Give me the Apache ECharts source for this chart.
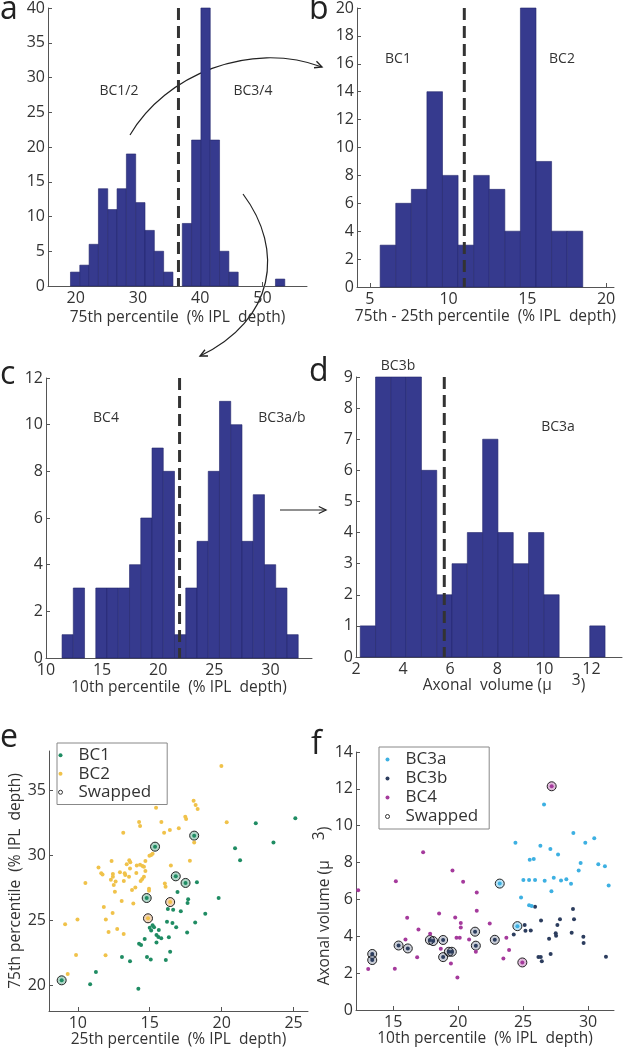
<!DOCTYPE html>
<html>
<head>
<meta charset="utf-8">
<script src="https://cdn.jsdelivr.net/npm/echarts@6/dist/echarts.min.js"></script>
<style>
  html, body { margin: 0; padding: 0; background: #fff; }
  #chart { width: 630px; height: 1049px; }
</style>
</head>
<body>
<div id="chart"></div>
<script>
// ---- histogram a: 75th percentile
const binStartA = 19.15, binWidthA = 1.497;
const countsA = [2, 3, 6, 14, 11, 14, 19, 12, 8, 5, 2, 0, 9, 21, 40, 21, 5, 2, 0, 0, 0, 0, 1];
const cutA = 36.5;
const ticksAX = [20, 30, 40, 50];

// ---- histogram b: 75th - 25th percentile
const binStartB = 5.66, binWidthB = 0.989;
const countsB = [3, 6, 7, 14, 8, 3, 8, 7, 4, 20, 9, 4, 4];
const cutB = 11.0;
const ticksBX = [5, 10, 15, 20];

// ---- histogram c: 10th percentile
const binStartC = 11.43, binWidthC = 1.002;
const countsC = [1, 3, 0, 3, 3, 3, 4, 6, 9, 8, 1, 3, 5, 8, 11, 10, 5, 7, 4, 3, 1];
const cutC = 21.9;
const ticksCX = [10, 15, 20, 25, 30];

// ---- histogram d: axonal volume
const binStartD = 2.18, binWidthD = 0.65;
const countsD = [1, 9, 9, 9, 6, 2, 3, 4, 7, 4, 3, 4, 2, 0, 0, 1];
const cutD = 5.75;
const ticksDX = [2, 4, 6, 8, 10, 12];

// ---- scatter e: [25th, 75th]
const bc1 = [
  [25.12, 32.82], [22.37, 32.44], [23.6, 30.97], [20.93, 30.51], [21.28, 29.59],
  [18.28, 27.9], [16.93, 27.15], [19.79, 26.69], [17.67, 26.6], [17.63, 26.3],
  [17.16, 25.67], [18.86, 25.49], [18.16, 24.8], [16.84, 24.44], [17.6, 24.03],
  [16.26, 25.85], [16.63, 25.79], [16.2, 24.87], [16.58, 24.77], [15.2, 24.6],
  [15.3, 24.45], [15.0, 24.4], [15.1, 24.2], [15.63, 24.23], [15.47, 23.85],
  [15.6, 23.7], [15.8, 23.6], [16.33, 23.67], [14.65, 23.54], [14.26, 23.18],
  [14.4, 23.08], [15.47, 23.26], [16.42, 22.56], [13.07, 22.15], [13.63, 21.82],
  [14.81, 22.15], [15.07, 21.97], [16.12, 21.92], [11.26, 21.0], [10.86, 20.05],
  [14.21, 19.72],
  [15.37, 30.64], [16.81, 28.36], [17.49, 27.85], [18.09, 31.49], [14.79, 26.69], [8.88, 20.36]
];
const bc2 = [
  [19.98, 36.85], [15.44, 33.64], [18.05, 34.18], [18.19, 33.85], [18.33, 33.54],
  [14.26, 32.54], [14.33, 32.23], [15.81, 32.54], [13.16, 31.72], [16.0, 31.72],
  [16.4, 31.92], [17.02, 32.05], [17.47, 32.95], [17.53, 32.77], [20.35, 32.51],
  [18.09, 30.97], [17.79, 29.56], [15.1, 30.0], [15.2, 30.1], [14.98, 29.95],
  [14.7, 29.54], [16.47, 29.2], [13.58, 29.6], [13.65, 29.45], [12.35, 29.54],
  [13.4, 29.28], [11.44, 29.03], [11.63, 28.6], [11.72, 28.5], [12.44, 28.54],
  [12.93, 28.67], [13.26, 28.6], [13.3, 28.46], [13.63, 28.97], [14.1, 29.2],
  [14.33, 29.25], [14.5, 29.15], [14.6, 29.1], [14.07, 28.62], [14.7, 28.77],
  [14.6, 28.33], [14.48, 28.15], [14.37, 28.0], [12.44, 28.33], [12.3, 28.1],
  [12.63, 27.97], [12.5, 27.7], [13.2, 28.0], [13.56, 28.33], [10.53, 27.85],
  [13.77, 27.3], [14.0, 27.5], [12.58, 27.18], [14.95, 27.4], [14.95, 27.25],
  [16.05, 27.8], [16.1, 27.56], [13.05, 26.46], [13.86, 26.26], [11.81, 26.0],
  [12.42, 25.54], [11.95, 25.03], [9.98, 25.03], [9.12, 24.67], [12.74, 24.3],
  [12.14, 24.08], [13.19, 23.92], [9.88, 22.31], [11.93, 22.28], [9.3, 20.85],
  [16.42, 26.38], [14.88, 25.13]
];
// swapped: [x, y, class] (0 = BC1, 1 = BC2)
const swappedE = [
  [15.37, 30.64, 0], [16.81, 28.36, 0], [17.49, 27.85, 0], [18.09, 31.49, 0],
  [14.79, 26.69, 0], [8.88, 20.36, 0], [16.42, 26.38, 1], [14.88, 25.13, 1]
];
const ticksEX = [10, 15, 20, 25];
const ticksEY = [20, 25, 30, 35];

// ---- scatter f: [10th percentile, axonal volume]
const bc3a = [
  [26.61, 11.15], [28.87, 9.61], [30.48, 9.32], [24.41, 9.07], [29.79, 9.07],
  [26.33, 8.91], [27.1, 8.73], [27.69, 8.44], [25.51, 8.15], [25.82, 8.2],
  [29.43, 7.97], [30.79, 7.91], [31.3, 7.8], [29.28, 7.57], [25.02, 7.06],
  [25.46, 7.06], [25.92, 7.06], [26.66, 7.01], [27.36, 7.17], [27.92, 7.03],
  [28.33, 7.1], [28.69, 6.85], [31.59, 6.76], [27.18, 6.45], [24.84, 6.11],
  [25.46, 5.69], [25.66, 5.65],
  [23.2, 6.86], [24.56, 4.55]
];
const bc3b = [
  [25.92, 5.6], [28.84, 5.48], [26.38, 4.86], [27.84, 4.92], [28.92, 4.92],
  [25.12, 4.61], [27.64, 4.61], [25.18, 4.3], [25.59, 4.32], [24.28, 4.1],
  [27.51, 4.17], [27.54, 4.03], [28.74, 4.19], [29.64, 3.97], [29.66, 3.63],
  [27.0, 3.87], [26.18, 2.87], [26.36, 2.87], [26.44, 2.64], [27.12, 3.04],
  [31.38, 2.89],
  [13.38, 3.04], [13.38, 2.71], [15.41, 3.5], [16.12, 3.34], [17.82, 3.8],
  [18.07, 3.74], [18.84, 3.8], [18.84, 2.87], [19.28, 3.16], [19.51, 3.16],
  [21.3, 4.25], [21.36, 3.49], [22.82, 3.81]
];
const bc4 = [
  [12.3, 6.5], [15.2, 6.99], [17.3, 8.56], [19.56, 7.57], [20.38, 6.96],
  [21.43, 6.38], [21.43, 5.38], [16.07, 5.0], [18.53, 5.24], [19.77, 5.02],
  [20.2, 4.72], [20.2, 4.48], [16.94, 4.37], [17.84, 4.14], [15.94, 3.83],
  [19.87, 3.92], [20.12, 3.92], [20.84, 3.83], [18.66, 3.32], [21.36, 3.16],
  [16.84, 2.86], [19.44, 2.53], [13.07, 2.22], [15.12, 2.24], [19.94, 1.77],
  [22.43, 4.7], [23.71, 3.92], [23.92, 3.25], [23.48, 2.8],
  [24.94, 2.58], [27.2, 12.14]
];
// swapped: [x, y, class] (0 = BC3a, 1 = BC3b, 2 = BC4)
const swappedF = [
  [13.38, 3.04, 1], [13.38, 2.71, 1], [15.41, 3.5, 1], [16.12, 3.34, 1], [17.82, 3.8, 1],
  [18.07, 3.74, 1], [18.84, 3.8, 1], [18.84, 2.87, 1], [19.28, 3.16, 1], [19.51, 3.16, 1],
  [21.3, 4.25, 1], [21.36, 3.49, 1], [22.82, 3.81, 1],
  [23.2, 6.86, 0], [24.56, 4.55, 0],
  [24.94, 2.58, 2], [27.2, 12.14, 2]
];
const ticksFX = [15, 20, 25, 30];

// ---- styles
const FONT = '"Open Sans", sans-serif';
const BAR = '#363a8e';
const AXIS = '#555';
const TXT = '#333';
const colorsE = ['#1f8c63', '#f0c24a'];
const colorsF = ['#3db0e2', '#2c3d5e', '#a53a9c'];
const swapFillE = ['rgba(31,140,99,0.35)', 'rgba(225,160,100,0.45)'];
const swapFillF = ['rgba(61,176,226,0.35)', 'rgba(44,61,94,0.25)', 'rgba(165,58,156,0.35)'];

const chart = echarts.init(document.getElementById('chart'));

function xAxisCfg(gi, min, max, ticks, name, nameGap) {
  return {
    type: 'value', gridIndex: gi, min: min, max: max,
    name: name, nameLocation: 'middle', nameGap: nameGap,
    nameTextStyle: { fontSize: 15.5, color: TXT, fontFamily: FONT },
    axisLine: { lineStyle: { color: AXIS, width: 1 } },
    axisTick: { inside: true, length: 4, customValues: ticks, lineStyle: { color: AXIS } },
    axisLabel: { customValues: ticks, fontSize: 16, color: TXT, fontFamily: FONT, margin: 4 },
    splitLine: { show: false }
  };
}

function yAxisCfg(gi, min, max, opts) {
  const ax = {
    type: 'value', gridIndex: gi, min: min, max: max,
    axisLine: { show: true, lineStyle: { color: AXIS, width: 1 } },
    axisTick: { show: true, inside: true, length: 4, lineStyle: { color: AXIS } },
    axisLabel: { fontSize: 16, color: TXT, fontFamily: FONT, margin: 3 },
    splitLine: { show: false }
  };
  if (opts.interval) ax.interval = opts.interval;
  if (opts.ticks) {
    ax.axisTick.customValues = opts.ticks;
    ax.axisLabel.customValues = opts.ticks;
  }
  if (opts.name) {
    ax.name = opts.name;
    ax.nameLocation = 'middle';
    ax.nameGap = opts.nameGap;
    ax.nameTextStyle = { fontSize: 15.5, color: TXT, fontFamily: FONT };
  }
  return ax;
}

function histSeries(gi, start, width, counts) {
  const data = counts.map((c, i) => [start + i * width, start + (i + 1) * width, c]);
  return {
    type: 'custom', xAxisIndex: gi, yAxisIndex: gi, data: data,
    encode: { x: [0, 1], y: 2 },
    renderItem: function (params, api) {
      if (!api.value(2)) return null;
      const p0 = api.coord([api.value(0), api.value(2)]);
      const p1 = api.coord([api.value(1), 0]);
      return {
        type: 'rect',
        shape: { x: p0[0], y: p0[1], width: p1[0] - p0[0], height: p1[1] - p0[1] },
        style: { fill: BAR, stroke: '#24276b', lineWidth: 0.6 }
      };
    }
  };
}

function cutSeries(gi, x, ymax) {
  return {
    type: 'line', xAxisIndex: gi, yAxisIndex: gi, data: [[x, ymax], [x, 0]],
    symbol: 'none', silent: true, z: 5,
    lineStyle: { color: '#333', width: 3, type: [12, 6] }
  };
}

function dots(gi, name, data, color) {
  return {
    type: 'scatter', name: name, xAxisIndex: gi, yAxisIndex: gi, data: data,
    symbol: 'circle', symbolSize: 4, z: 4,
    itemStyle: { color: color, opacity: 1 }
  };
}

function swapSeries(gi, data, fills) {
  return {
    type: 'scatter', name: 'Swapped', xAxisIndex: gi, yAxisIndex: gi, data: data,
    encode: { x: 0, y: 1 }, symbol: 'circle', symbolSize: 9, z: 3,
    itemStyle: {
      color: p => fills[p.data[2]], borderColor: '#222', borderWidth: 1, opacity: 1
    }
  };
}

function arrowHead(tx, ty, fx, fy) {
  const a = Math.atan2(ty - fy, tx - fx);
  const L = 8, s = 0.45;
  return {
    type: 'polyline',
    shape: { points: [
      [tx - L * Math.cos(a - s), ty - L * Math.sin(a - s)],
      [tx, ty],
      [tx - L * Math.cos(a + s), ty - L * Math.sin(a + s)]
    ] },
    style: { stroke: '#222', lineWidth: 1.3, fill: null }
  };
}

function label(x, y, text, size) {
  return {
    type: 'text', x: x, y: y, silent: true,
    style: { text: text, font: (size || 14) + 'px ' + FONT, fill: TXT, align: 'center', verticalAlign: 'middle' }
  };
}

function letter(x, y, text) {
  return {
    type: 'text', x: x, y: y, silent: true,
    style: { text: text, font: '32px ' + FONT, fill: '#222', align: 'left', verticalAlign: 'bottom' }
  };
}

const legendCommon = {
  orient: 'vertical', borderColor: '#888', borderWidth: 1, itemGap: 0,
  itemWidth: 20, itemHeight: 4, selectedMode: false,
  textStyle: { fontSize: 17, color: TXT, fontFamily: FONT, padding: [0, 0, 0, 3] }
};
const swapIcon = { name: 'Swapped', icon: 'circle', itemStyle: { color: '#fff', borderColor: '#333', borderWidth: 1 } };

const option = {
  animation: false,
  backgroundColor: '#fff',
  grid: [
    { left: 48, top: 7, width: 259, height: 279 },
    { left: 357, top: 7, width: 257, height: 280 },
    { left: 46, top: 378, width: 266, height: 280 },
    { left: 356, top: 377, width: 266, height: 280 },
    { left: 49, top: 751, width: 259, height: 260 },
    { left: 356, top: 752, width: 258, height: 258 }
  ],
  xAxis: [
    xAxisCfg(0, 15.54, 57.15, ticksAX, '75th percentile  (% IPL  depth)', 24),
    xAxisCfg(1, 4.19, 20.5, ticksBX, '75th - 25th percentile  (% IPL  depth)', 22),
    xAxisCfg(2, 10, 33.7, ticksCX, '10th percentile  (% IPL  depth)', 22),
    xAxisCfg(3, 2, 13.3, ticksDX, '', 22),
    xAxisCfg(4, 8, 26, ticksEX, '25th percentile  (% IPL  depth)', 20),
    xAxisCfg(5, 12.13, 32, ticksFX, '10th percentile  (% IPL  depth)', 20)
  ],
  yAxis: [
    yAxisCfg(0, 0, 40, { interval: 5 }),
    yAxisCfg(1, 0, 20, { interval: 2 }),
    yAxisCfg(2, 0, 12, { interval: 2 }),
    yAxisCfg(3, 0, 9, { interval: 1 }),
    yAxisCfg(4, 18, 38, { ticks: ticksEY, name: '75th percentile  (% IPL  depth)', nameGap: 25 }),
    yAxisCfg(5, 0, 14, { interval: 2 })
  ],
  legend: [
    Object.assign({}, legendCommon, {
      left: 57, top: 743, padding: [3, 16, 3, 1],
      textStyle: Object.assign({}, legendCommon.textStyle, { lineHeight: 18.5 }),
      data: [{ name: 'BC1', icon: 'circle' }, { name: 'BC2', icon: 'circle' }, swapIcon]
    }),
    Object.assign({}, legendCommon, {
      left: 379, top: 747, padding: [3, 11, 3, 6],
      textStyle: Object.assign({}, legendCommon.textStyle, { lineHeight: 19 }),
      data: [{ name: 'BC3a', icon: 'circle' }, { name: 'BC3b', icon: 'circle' }, { name: 'BC4', icon: 'circle' }, swapIcon]
    })
  ],
  series: [
    histSeries(0, binStartA, binWidthA, countsA),
    histSeries(1, binStartB, binWidthB, countsB),
    histSeries(2, binStartC, binWidthC, countsC),
    histSeries(3, binStartD, binWidthD, countsD),
    cutSeries(0, cutA, 40),
    cutSeries(1, cutB, 20),
    cutSeries(2, cutC, 12),
    cutSeries(3, cutD, 9),
    swapSeries(4, swappedE, swapFillE),
    dots(4, 'BC2', bc2, colorsE[1]),
    dots(4, 'BC1', bc1, colorsE[0]),
    swapSeries(5, swappedF, swapFillF),
    dots(5, 'BC4', bc4, colorsF[2]),
    dots(5, 'BC3b', bc3b, colorsF[1]),
    dots(5, 'BC3a', bc3a, colorsF[0])
  ],
  graphic: [
    letter(0, 26, 'a'), letter(309, 26, 'b'), letter(0, 391, 'c'),
    letter(309, 388, 'd'), letter(0, 754, 'e'), letter(311, 761, 'f'),
    label(119, 91, 'BC1/2'), label(253, 91, 'BC3/4'),
    label(398, 59, 'BC1'), label(562, 59, 'BC2'),
    label(106, 418, 'BC4'), label(282, 418, 'BC3a/b'),
    label(398, 366, 'BC3b'), label(558, 427, 'BC3a'),
    {
      type: 'text', x: 504, y: 686, silent: true,
      style: {
        text: 'Axonal  volume (\u03bc     {s|3})', font: '15.5px ' + FONT, fill: TXT,
        align: 'center', verticalAlign: 'middle',
        rich: { s: { fontSize: 15.5, fontFamily: FONT, fill: TXT, padding: [0, 0, 10, 0] } }
      }
    },
    {
      type: 'text', x: 325, y: 906, rotation: Math.PI / 2, silent: true,
      style: {
        text: 'Axonal volume (\u03bc     {s|3})', font: '15.5px ' + FONT, fill: TXT,
        align: 'center', verticalAlign: 'middle',
        rich: { s: { fontSize: 15.5, fontFamily: FONT, fill: TXT, padding: [0, 0, 10, 0] } }
      }
    },
    // curved arrow a -> b
    {
      type: 'bezierCurve', silent: true,
      shape: { x1: 130, y1: 135, cpx1: 165, cpy1: 75, cpx2: 250, cpy2: 40, x2: 322, y2: 67 },
      style: { stroke: '#222', lineWidth: 1.2, fill: null }
    },
    arrowHead(322, 67, 250, 40),
    // curved arrow a -> c
    {
      type: 'bezierCurve', silent: true,
      shape: { x1: 243, y1: 194, cpx1: 285, cpy1: 250, cpx2: 275, cpy2: 320, x2: 200, y2: 356 },
      style: { stroke: '#222', lineWidth: 1.2, fill: null }
    },
    arrowHead(200, 356, 275, 320),
    // straight arrow c -> d
    {
      type: 'line', silent: true,
      shape: { x1: 280, y1: 510, x2: 326, y2: 510 },
      style: { stroke: '#222', lineWidth: 1.2 }
    },
    arrowHead(326, 510, 280, 510)
  ]
};

chart.setOption(option);
</script>
</body>
</html>
